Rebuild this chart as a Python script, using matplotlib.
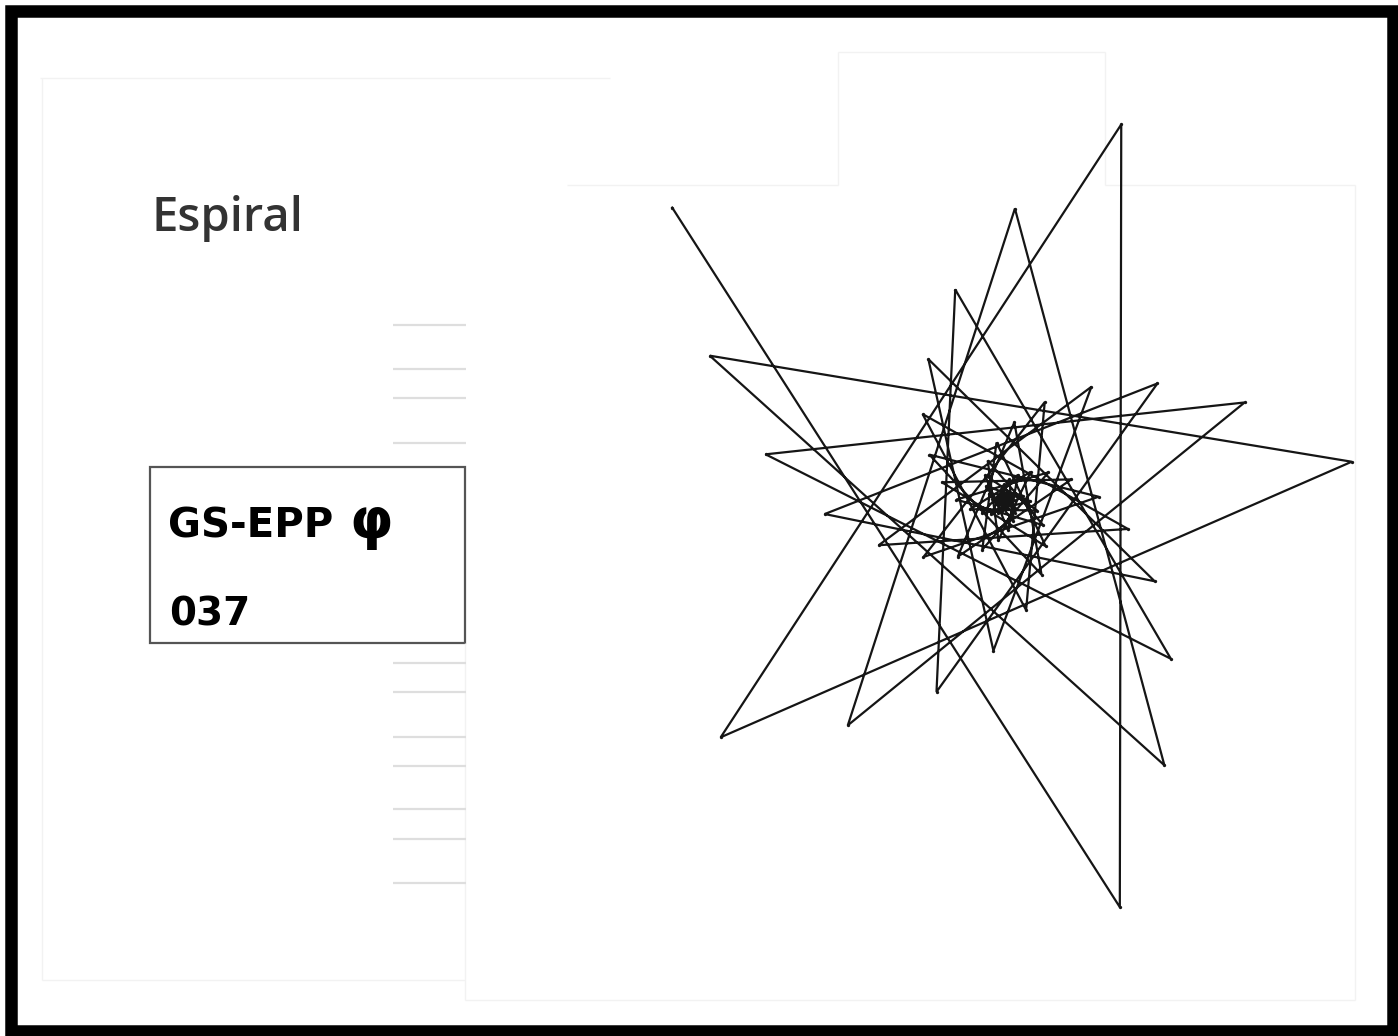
import numpy as np
import matplotlib
matplotlib.use("Agg")
import matplotlib.pyplot as plt
from matplotlib.patches import Rectangle

# ---- data: spiral vertices (angle in degrees, radius in px) ----
theta_deg = [138.7, 285.75, 72.8, 219.85, 6.3, 153.95, 301.0, 88.05, 235.1, 22.15,
             169.2, 316.25, 103.3, 250.35, 37.4, 184.45, 331.5, 118.55, 265.6, 52.65,
             199.7, 346.75, 133.8, 280.85, 67.9, 214.95, 2.0, 149.05, 296.1, 83.15,
             230.2, 17.25, 164.3, 311.35, 98.4, 245.45, 32.5, 179.55, 326.6, 113.65,
             260.7, 47.75, 194.8, 341.85, 128.9, 275.95, 63.0, 210.05, 357.1, 144.15,
             291.2, 78.25, 225.3, 12.35, 159.4, 306.45, 93.5, 240.55, 27.6, 174.65,
             321.7, 108.75, 255.8, 42.85, 189.9, 336.95, 124.0, 271.05, 58.1, 205.15,
             352.2, 139.25, 286.3, 73.35, 220.4, 7.45, 154.5, 301.55, 88.6, 235.65,
             22.7, 169.75, 316.8, 103.85, 250.9, 37.95, 185.0, 332.05, 119.1, 266.15,
             53.2]
radius = [443.0, 423.0, 393.1, 370.3, 348.8, 328.6, 309.5, 291.6, 274.7, 258.7,
          243.7, 229.6, 216.3, 203.7, 191.9, 180.8, 170.3, 160.4, 151.1, 142.4,
          134.1, 126.3, 119.0, 112.1, 105.6, 99.5, 93.7, 88.2, 83.1, 78.3,
          73.8, 69.5, 65.5, 61.7, 58.1, 54.7, 51.5, 48.6, 45.7, 43.1,
          40.6, 38.2, 36.0, 33.9, 32.0, 30.1, 28.4, 26.7, 25.2, 23.7,
          22.3, 21.0, 19.8, 18.7, 17.6, 16.6, 15.6, 14.7, 13.8, 13.0,
          12.3, 11.6, 10.9, 10.3, 9.7, 9.1, 8.6, 8.1, 7.6, 7.2,
          6.8, 6.4, 6.0, 5.6, 5.3, 5.0, 4.7, 4.4, 4.2, 3.9,
          3.7, 3.5, 3.3, 3.1, 2.9, 2.7, 2.6, 2.4, 2.3, 2.1,
          2.0]

title_text = "Espiral"
label_main = "GS-EPP"
label_phi = "φ"
label_code = "037"
guide_rows_top = [325, 369, 398, 443]
guide_rows_bottom = [663, 692, 737, 766, 809, 839, 883]

W, H = 1398, 1036
DPI = 100
fig = plt.figure(figsize=(W / DPI, H / DPI), dpi=DPI)
fig.patch.set_facecolor("white")

# background axes in pixel coordinates
bg = fig.add_axes([0, 0, 1, 1])
bg.set_xlim(0, W)
bg.set_ylim(H, 0)
bg.axis("off")

# faint panel outlines (screenshot artefacts)
faint = "#f2f2f2"
for xs, ys in [([40, 610], [78, 78]), ([42, 42], [78, 980]), ([42, 465], [980, 980]),
               ([465, 465], [643, 1000]), ([465, 1355], [1000, 1000]),
               ([1355, 1355], [185, 1000]), ([1105, 1355], [185, 185]),
               ([1105, 1105], [52, 185]), ([838, 1105], [52, 52]),
               ([838, 838], [52, 185]), ([567, 838], [185, 185])]:
    bg.plot(xs, ys, color=faint, lw=1.0, solid_capstyle="butt")

# light grey guide rows
for yy in guide_rows_top + guide_rows_bottom:
    bg.plot([393, 466], [yy, yy], color="#dedede", lw=1.6, solid_capstyle="butt")

# title
bg.text(151, 231, title_text, fontsize=34, family="Open Sans", fontweight="semibold",
        color="#333333", ha="left", va="baseline")

# label box
bg.add_patch(Rectangle((150, 467), 315, 176, fill=False, edgecolor="#555555", lw=1.6))
bg.text(168, 538, label_main, fontsize=29, family="DejaVu Sans", fontweight="bold",
        color="black", ha="left", va="baseline")
bg.text(349, 538, label_phi, fontsize=40, family="DejaVu Sans", fontweight="bold",
        color="black", ha="left", va="baseline")
bg.text(169, 625, label_code, fontsize=28, family="DejaVu Sans", fontweight="bold",
        color="black", ha="left", va="baseline")

# outer black frame
bg.add_patch(Rectangle((11, 11), 1382, 1020, fill=False, edgecolor="black", lw=9))

# spiral axes (centred on the spiral's centre)
cx, cy, R = 1005, 500, 460
ax = fig.add_axes([(cx - R) / W, (H - cy - R) / H, 2 * R / W, 2 * R / H])
ax.set_xlim(-R, R)
ax.set_ylim(-R, R)
ax.axis("off")

th = np.deg2rad(np.array(theta_deg))
rr = np.array(radius)
x = rr * np.cos(th)
y = rr * np.sin(th)
ax.plot(x, y, color="#151515", lw=1.6, solid_joinstyle="miter",
        marker="o", markersize=2.4, markeredgewidth=0)

fig.savefig("out.png", dpi=DPI, facecolor="white")
